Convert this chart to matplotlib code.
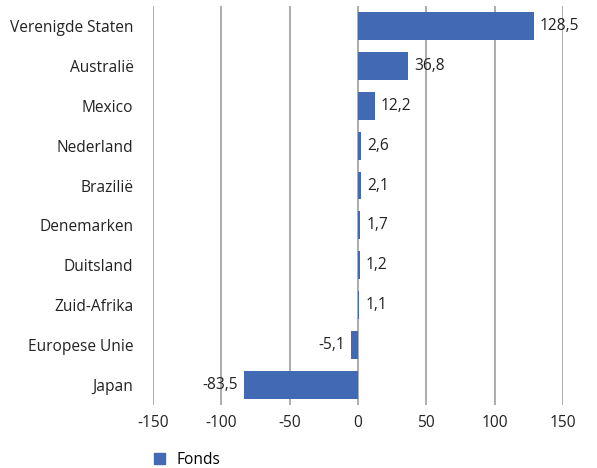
import matplotlib
matplotlib.use("Agg")
import matplotlib.pyplot as plt
from matplotlib.patches import Patch

categories = ["Verenigde Staten", "Australië", "Mexico", "Nederland", "Brazilië",
              "Denemarken", "Duitsland", "Zuid-Afrika", "Europese Unie", "Japan"]
values = [128.5, 36.8, 12.2, 2.6, 2.1, 1.7, 1.2, 1.1, -5.1, -83.5]
xticks = [-150, -100, -50, 0, 50, 100, 150]
series_name = "Fonds"

plt.rcParams['font.family'] = ['Open Sans', 'DejaVu Sans']
color = "#4169B4"
grid_c = "#A6A6A6"
fs = 11.2

fig = plt.figure(figsize=(5.97, 4.68), dpi=100)
ax = fig.add_axes([0.256, 0.135, 0.687, 0.852])
y = list(range(len(categories)))
ax.barh(y, values, height=0.7, color=color, zorder=3)
ax.set_ylim(len(categories) - 0.5, -0.5)
ax.set_xlim(-150, 150)
ax.set_xticks(xticks)
ax.set_xticklabels([str(t) for t in xticks], fontsize=fs, color="#222222")
ax.set_yticks(y)
ax.set_yticklabels(categories, fontsize=fs, color="#222222")
ax.tick_params(length=0, pad=7)
ax.tick_params(axis='y', pad=14)
for s in ax.spines.values():
    s.set_visible(False)
for t in xticks:
    ax.axvline(t, color=grid_c, lw=1.3, zorder=1)

for yi, v in zip(y, values):
    lab = f"{v:.1f}".replace(".", ",")
    if v >= 0:
        ax.text(v + 4.5, yi, lab, va='center', ha='left', fontsize=fs, color="#222222", zorder=4)
    else:
        ax.text(v - 4.5, yi, lab, va='center', ha='right', fontsize=fs, color="#222222", zorder=4)

fig.legend(handles=[Patch(color=color, label=series_name)], loc='lower left',
           bbox_to_anchor=(0.235, -0.03), frameon=False, fontsize=fs,
           handlelength=0.7, handleheight=0.7, handletextpad=0.7)

fig.savefig("out.png", dpi=100)
